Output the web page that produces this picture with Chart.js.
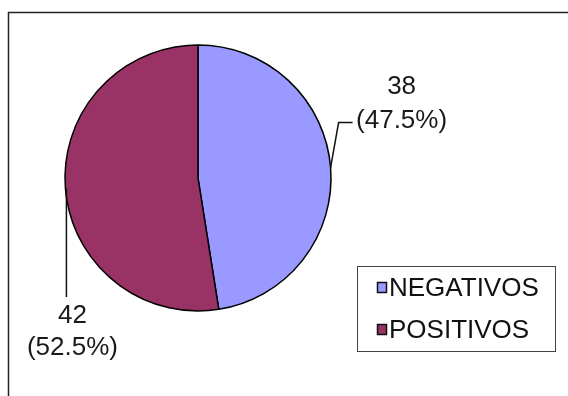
<!DOCTYPE html>
<html>
<head>
<meta charset="utf-8">
<script src="https://cdn.jsdelivr.net/npm/chart.js@4.4.1/dist/chart.umd.min.js"></script>
<style>
  html, body { margin: 0; padding: 0; background: #fff; }
  #wrap { width: 568px; height: 396px; position: relative; }
</style>
</head>
<body>
<div id="wrap"><canvas id="pieChart" width="568" height="396"></canvas></div>
<script>
// Resultados
const categories = ['NEGATIVOS', 'POSITIVOS'];
const counts = [38, 42];
const percentLabels = ['47.5%', '52.5%'];
const sliceColors = ['#9999FF', '#993366'];

const labelFont = '26px "Liberation Sans", Arial, sans-serif';

// outer frame, only top and left edges fall inside the canvas
const frameLines = {
    id: 'frameLines',
    beforeDraw(chart) {
        const ctx = chart.ctx;
        ctx.save();
        ctx.fillStyle = '#fff';
        ctx.fillRect(0, 0, chart.width, chart.height);
        ctx.strokeStyle = '#222';
        ctx.lineWidth = 1.5;
        ctx.beginPath();
        ctx.moveTo(8.5, chart.height);
        ctx.lineTo(8.5, 12.5);
        ctx.lineTo(chart.width, 12.5);
        ctx.stroke();
        ctx.restore();
    }
};

// value + percent labels with leader lines
const sliceLabels = {
    id: 'sliceLabels',
    afterDatasetsDraw(chart) {
        const ctx = chart.ctx;
        const arcs = chart.getDatasetMeta(0).data;
        ctx.save();
        ctx.strokeStyle = '#111';
        ctx.lineWidth = 1.5;
        ctx.fillStyle = '#1a1a1a';
        ctx.font = labelFont;
        ctx.textAlign = 'center';
        ctx.textBaseline = 'middle';

        arcs.forEach((arc, i) => {
            const mid = (arc.startAngle + arc.endAngle) / 2;
            const ex = arc.x + arc.outerRadius * Math.cos(mid);
            const ey = arc.y + arc.outerRadius * Math.sin(mid);
            const line1 = String(counts[i]);
            const line2 = '(' + percentLabels[i] + ')';
            ctx.beginPath();
            if (Math.cos(mid) >= 0) {
                // right side: up then short horizontal tick
                const kx = ex + 8, ky = ey - 45;
                ctx.moveTo(ex, ey);
                ctx.lineTo(kx, ky);
                ctx.lineTo(kx + 14, ky);
                ctx.stroke();
                ctx.fillText(line1, kx + 63, ky - 36);
                ctx.fillText(line2, kx + 63, ky - 2);
            } else {
                // left side: straight down
                const ly = 297;
                ctx.moveTo(ex + 1, ey);
                ctx.lineTo(ex + 1, ly);
                ctx.stroke();
                ctx.fillText(line1, ex + 7, ly + 19);
                ctx.fillText(line2, ex + 7, ly + 51);
            }
        });
        ctx.restore();
    }
};

// boxed legend at lower right
const boxLegend = {
    id: 'boxLegend',
    afterDraw(chart) {
        const ctx = chart.ctx;
        const bx = 357.5, by = 266.5, bw = 198, bh = 85;
        ctx.save();
        ctx.strokeStyle = '#444';
        ctx.lineWidth = 1;
        ctx.strokeRect(bx, by, bw, bh);
        ctx.font = labelFont;
        ctx.textBaseline = 'middle';
        ctx.textAlign = 'left';
        categories.forEach((name, i) => {
            const cy = 288 + i * 42;
            ctx.fillStyle = sliceColors[i];
            ctx.fillRect(377, cy - 6, 10, 11);
            ctx.strokeStyle = '#111';
            ctx.lineWidth = 1.5;
            ctx.strokeRect(377.5, cy - 5.5, 9, 10);
            ctx.fillStyle = '#111';
            ctx.fillText(name, 389, cy + 1);
        });
        ctx.restore();
    }
};

new Chart(document.getElementById('pieChart'), {
    type: 'pie',
    data: {
        labels: categories,
        datasets: [{
            data: counts,
            backgroundColor: sliceColors,
            borderColor: '#000',
            borderWidth: 1.5,
            radius: 133
        }]
    },
    options: {
        responsive: false,
        animation: false,
        layout: {
            padding: { left: 40, right: 212, top: 20, bottom: 60 }
        },
        plugins: {
            legend: { display: false },
            tooltip: { enabled: false }
        }
    },
    plugins: [frameLines, sliceLabels, boxLegend]
});
</script>
</body>
</html>
